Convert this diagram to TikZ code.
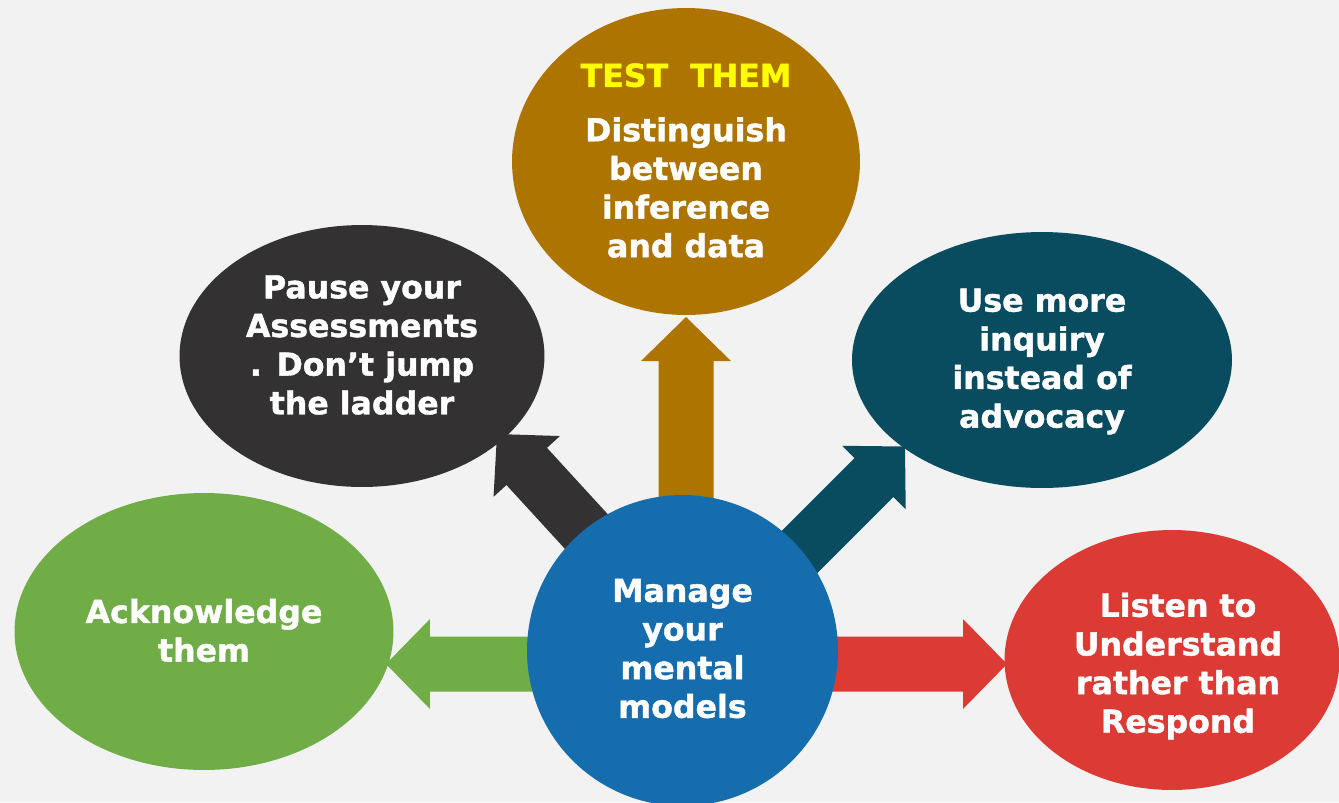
\documentclass[tikz,border=0pt]{standalone}
\usepackage{fontspec}
\setmainfont{DejaVu Sans}[BoldFeatures={FakeBold=1.3}]
\usepackage{xcolor}
\usepackage{tikz}
\usetikzlibrary{calc,shapes.geometric}
\definecolor{paper}{HTML}{F2F2F2}
\definecolor{gold}{HTML}{AD7500}
\definecolor{charcoal}{HTML}{333132}
\definecolor{petrol}{HTML}{094C60}
\definecolor{leaf}{HTML}{70AD47}
\definecolor{cobalt}{HTML}{156DAD}
\definecolor{brick}{HTML}{DC3B35}
\definecolor{signal}{HTML}{FFFF00}
\tikzset{
    bubble/.style={ellipse,inner sep=0pt,outer sep=0pt},
    hubnode/.style={circle,fill=cobalt,inner sep=0pt,outer sep=0pt,minimum size=6.22cm},
    words/.style={inner sep=0pt,text=white,align=center,
      font=\fontsize{18}{22}\selectfont\bfseries}
}
% block arrow: fill colour, tail, tip
\newcommand{\blockarrow}[3]{%
  \coordinate (ab) at ($(#3)!0.88cm!(#2)$);
  \fill[#1] ($(#2)!0.55cm!90:(#3)$) -- ($(ab)!0.55cm!90:(#3)$)
    -- ($(ab)!0.9cm!90:(#3)$) -- (#3) -- ($(ab)!0.9cm!-90:(#3)$)
    -- ($(ab)!0.55cm!-90:(#3)$) -- ($(#2)!0.55cm!-90:(#3)$) -- cycle;
}

\begin{document}
\begin{tikzpicture}[x=0.02cm,y=-0.02cm]
  \useasboundingbox (0,0) rectangle (1339,802);
  \clip (0,0) rectangle (1339,802);
  \fill[paper] (0,0) rectangle (1339,802);

  % the five ideas round the hub
  \node[bubble,fill=gold,minimum width=6.96cm,minimum height=6.14cm] (test) at (686,161.5) {};
  \node[bubble,fill=charcoal,minimum width=7.3cm,minimum height=5.24cm] (pause) at (362,356) {};
  \node[bubble,fill=petrol,minimum width=7.6cm,minimum height=5.12cm] (inquiry) at (1042,360) {};
  \node[bubble,fill=leaf,minimum width=7.58cm,minimum height=5.54cm] (ack) at (204,631.5) {};
  \node[bubble,fill=brick,minimum width=6.7cm,minimum height=5.2cm] (listen) at (1172,660) {};

  % arrow ends
  \coordinate (tailT) at (686,650);   \coordinate (tipT) at (686,317);
  \coordinate (tailP) at (683,637);   \coordinate (tipP) at (497,434);
  \coordinate (tailI) at (683,668.5); \coordinate (tipI) at (905,446.5);
  \coordinate (tailA) at (683,664);   \coordinate (tipA) at (386,664);
  \coordinate (tailL) at (683,664);   \coordinate (tipL) at (1007,664);

  \blockarrow{gold}{tailT}{tipT}
  \blockarrow{charcoal}{tailP}{tipP}
  \blockarrow{petrol}{tailI}{tipI}
  \blockarrow{leaf}{tailA}{tipA}
  \blockarrow{brick}{tailL}{tipL}

  \node[hubnode] (hub) at (682.5,650.5) {};

  % labels
  \node[words] (testT) at ($(test.center)+(0,-1)$)
    {\textcolor{signal}{TEST~~THEM}\\[9pt]Distinguish\\between\\inference\\and data};
  \node[words] (pauseT) at ($(pause.center)+(0,-11)$)
    {Pause your\\Assessments\\. Don’t jump\\the ladder};
  \node[words] (inquiryT) at ($(inquiry.center)+(0,1.5)$)
    {Use more\\inquiry\\instead of\\advocacy};
  \node[words] (ackT) at ($(ack.center)+(0,-1)$) {Acknowledge\\them};
  \node[words] (listenT) at ($(listen.center)+(6,6)$)
    {Listen to\\Understand\\rather than\\Respond};
  \node[words] (hubT) at ($(hub.center)+(0,-2)$) {Manage\\your\\mental\\models};
\end{tikzpicture}
\end{document}
